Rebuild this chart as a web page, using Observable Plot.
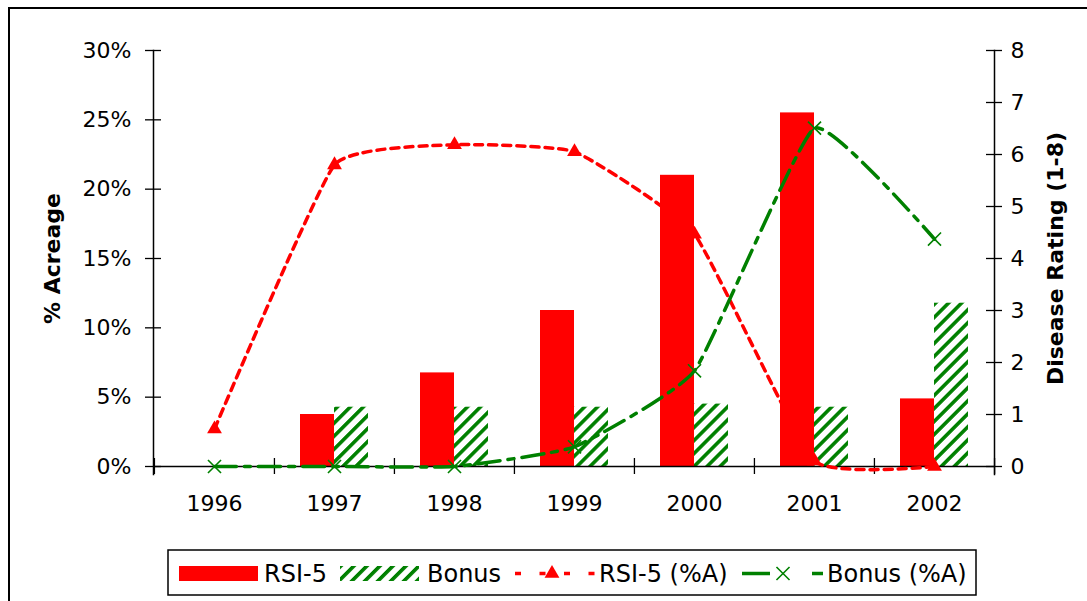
<!DOCTYPE html>
<html><head><meta charset="utf-8">
<script src="https://cdn.jsdelivr.net/npm/d3@7"></script>
<script src="https://cdn.jsdelivr.net/npm/@observablehq/plot@0.6"></script>
<style>
body{margin:0;background:#fff;font-family:"DejaVu Sans",sans-serif;}
#wrap{position:relative;width:1087px;height:601px;overflow:hidden;background:#fff;}
#border{position:absolute;left:8px;top:7px;width:1100px;height:640px;border:2px solid #000;}
#chart{position:absolute;left:0;top:0;}
#legend{position:absolute;left:0;top:540px;}
</style></head><body>
<div id="wrap"><div id="border"></div><div id="chart"></div><div id="legend"></div></div>
<script>
// ---- data ----
const years = [1996, 1997, 1998, 1999, 2000, 2001, 2002];
const rsi5Rating  = [null, 1.0, 1.8, 3.0, 5.6, 6.8, 1.3];     // bars, Disease Rating (1-8), right axis
const bonusRating = [null, 1.14, 1.14, 1.14, 1.2, 1.14, 3.14]; // bars, right axis
const rsi5Pct  = [2.7, 21.75, 23.2, 22.7, 16.75, 0.4, 0];     // line, % Acreage, left axis
const bonusPct = [0, 0, 0, 1.42, 6.9, 24.4, 16.4];            // line, left axis
const leftTicks = [0, 5, 10, 15, 20, 25, 30];
const rightTicks = [0, 1, 2, 3, 4, 5, 6, 7, 8];
const leftLabel = "% Acreage";
const rightLabel = "Disease Rating (1-8)";
const seriesNames = ["RSI-5", "Bonus", "RSI-5 (%A)", "Bonus (%A)"];

const RED = "#ff0000", GREEN = "#008000";
const W = 1087, H = 540, mL = 153, mR = 93, mT = 50, mB = 74;
const innerW = W - mL - mR, innerH = H - mT - mB;
const bw = innerW / years.length;
const toPct = r => r * 30 / 8;

const rows = years.map((yr, i) => ({year: yr, rsiR: rsi5Rating[i], bonR: bonusRating[i], rsiP: rsi5Pct[i], bonP: bonusPct[i]}));

const plot = Plot.plot({
  width: W, height: H, marginLeft: mL, marginRight: mR, marginTop: mT, marginBottom: mB,
  style: {fontFamily: "DejaVu Sans", fontSize: "22px", color: "#000", background: "transparent", overflow: "visible"},
  x: {type: "band", domain: years, padding: 0, axis: null},
  y: {domain: [0, 30], axis: null},
  marks: [
    Plot.barY(rows.filter(d => d.rsiR != null), {x: "year", y: d => toPct(d.rsiR), fill: RED, insetLeft: 26, insetRight: 60}),
    Plot.barY(rows.filter(d => d.bonR != null), {x: "year", y: d => toPct(d.bonR), fill: "url(#hatch)", insetLeft: 60, insetRight: 26}),
    Plot.ruleY([0], {strokeWidth: 1.5}),
    Plot.frame({anchor: "left", insetBottom: -8, strokeWidth: 1.5}),
    Plot.frame({anchor: "right", insetBottom: -8, strokeWidth: 1.5}),
    Plot.tickY(leftTicks, {y: d => d, insetLeft: -8, insetRight: innerW - 8, strokeWidth: 1.3}),
    Plot.tickY(rightTicks, {y: d => toPct(d), insetLeft: innerW - 8, insetRight: -8, strokeWidth: 1.3}),
    Plot.tickX(years, {x: d => d, dx: -bw / 2, insetTop: innerH - 8, insetBottom: -8, strokeWidth: 1.3}),
    Plot.tickX([years[years.length - 1]], {x: d => d, dx: bw / 2, insetTop: innerH - 8, insetBottom: -8, strokeWidth: 1.3}),
    Plot.axisY({ticks: leftTicks, tickSize: 0, tickPadding: 22, tickFormat: d => d + "%", label: null}),
    Plot.axisY({ticks: rightTicks.map(toPct), anchor: "right", tickSize: 0, tickPadding: 16, tickFormat: d => String(Math.round(d * 8 / 30)), label: null}),
    Plot.axisX({ticks: years, tickSize: 0, tickPadding: 29, tickFormat: d => String(d), label: null}),
    Plot.text([leftLabel], {frameAnchor: "left", rotate: -90, dx: -101, textAnchor: "middle", lineAnchor: "middle", fontWeight: "bold", fontSize: 22}),
    Plot.text([rightLabel], {frameAnchor: "right", rotate: -90, dx: 61, textAnchor: "middle", lineAnchor: "middle", fontWeight: "bold", fontSize: 22}),
    Plot.line(rows, {x: "year", y: "rsiP", stroke: RED, strokeWidth: 3.5, strokeDasharray: "8,6", curve: "cardinal", tension: 0.6}),
    Plot.dot(rows, {x: "year", y: "rsiP", symbol: "triangle", r: 5.5, fill: RED}),
    Plot.line(rows, {x: "year", y: "bonP", stroke: GREEN, strokeWidth: 3.5, strokeDasharray: "22,8,6,8", curve: "cardinal", tension: 0.6}),
    Plot.dot(rows, {x: "year", y: "bonP", symbol: "times", r: 6, stroke: GREEN, strokeWidth: 1.6})
  ]
});

const hatchDef = (id) => `<pattern id="${id}" width="9.2" height="9.2" patternUnits="userSpaceOnUse" patternTransform="rotate(45)"><rect width="9.2" height="9.2" fill="#fff"/><rect width="3.6" height="9.2" fill="${GREEN}"/></pattern>`;
d3.select(plot).insert("defs", ":first-child").html(hatchDef("hatch"));
document.getElementById("chart").appendChild(plot);

// ---- legend ----
const lg = d3.create("svg").attr("width", W).attr("height", 61)
  .style("font-family", "DejaVu Sans").style("font-size", "24px");
lg.append("defs").html(hatchDef("hatchL"));
lg.append("rect").attr("x", 168).attr("y", 10).attr("width", 808).attr("height", 45)
  .attr("fill", "#fff").attr("stroke", "#000").attr("stroke-width", 1.5);
const cy = 33.5;
lg.append("rect").attr("x", 179).attr("y", 26).attr("width", 79).attr("height", 15).attr("fill", RED);
lg.append("text").attr("x", 264).attr("y", cy).attr("dominant-baseline", "central").text(seriesNames[0]);
lg.append("rect").attr("x", 340).attr("y", 26).attr("width", 79).attr("height", 15).attr("fill", "url(#hatchL)");
lg.append("text").attr("x", 427).attr("y", cy).attr("dominant-baseline", "central").text(seriesNames[1]);
lg.append("line").attr("x1", 515).attr("x2", 595).attr("y1", cy).attr("y2", cy)
  .attr("stroke", RED).attr("stroke-width", 3.5).attr("stroke-dasharray", "6,18.5");
lg.append("path").attr("d", d3.symbol(d3.symbolTriangle, Math.PI * 5.5 * 5.5)()).attr("transform", `translate(552,${cy})`).attr("fill", RED);
lg.append("text").attr("x", 599).attr("y", cy).attr("dominant-baseline", "central").text(seriesNames[2]);
lg.append("line").attr("x1", 742).attr("x2", 823).attr("y1", cy).attr("y2", cy)
  .attr("stroke", GREEN).attr("stroke-width", 3.5).attr("stroke-dasharray", "28,42,11,100");
lg.append("path").attr("d", d3.symbol(d3.symbolTimes, Math.PI * 6 * 6)()).attr("transform", `translate(783,${cy})`)
  .attr("fill", "none").attr("stroke", GREEN).attr("stroke-width", 1.6);
lg.append("text").attr("x", 827).attr("y", cy).attr("dominant-baseline", "central").text(seriesNames[3]);
document.getElementById("legend").appendChild(lg.node());
</script>
</body></html>
